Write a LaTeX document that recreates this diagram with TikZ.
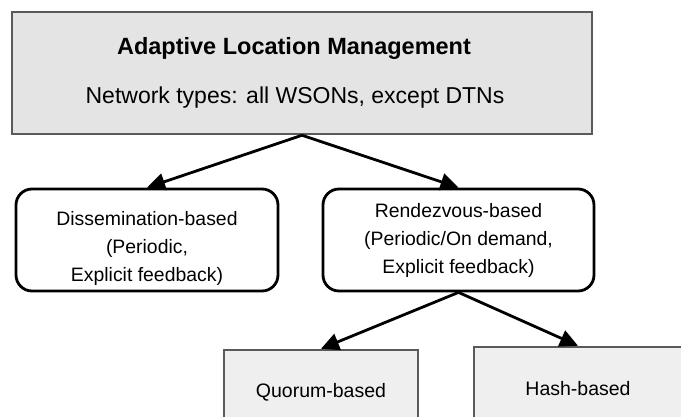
\documentclass[tikz,border=0pt]{standalone}
\usepackage{fontspec}
\setmainfont{Liberation Sans}
\usetikzlibrary{arrows.meta}
\definecolor{topfill}{HTML}{E4E4E4}
\definecolor{leaffill}{HTML}{EFEFEF}
\definecolor{framegray}{HTML}{5A5A5A}

\begin{document}
\begin{tikzpicture}[x=1pt,y=-1pt,
  headbox/.style={draw=framegray, fill=topfill, line width=2.5pt,
    minimum width=580pt, minimum height=122pt, inner sep=0pt},
  catbox/.style={draw=black, fill=white, line width=2.8pt,
    rounded corners=16pt, minimum height=102pt, inner sep=0pt},
  leafbox/.style={draw=framegray, fill=leaffill, line width=2.5pt,
    minimum height=84pt, inner sep=0pt, font=\fontsize{19.5}{24}\selectfont},
  txt/.style={inner sep=0pt, align=center},
  midtxt/.style={txt, font=\fontsize{19.4}{28}\selectfont},
  link/.style={line width=2.8pt, -{Triangle[length=18pt,width=17pt]}}
]
\useasboundingbox (0,0) rectangle (681,416);
\clip (0,0) rectangle (681,416);

% root of the taxonomy
\node[headbox] (root) at (302,73) {};
\node[txt, font=\bfseries\fontsize{23.5}{28}\selectfont] (title) at (294,48)
  {Adaptive Location Management};
\node[txt, font=\fontsize{23}{28}\selectfont] (sub) at (295,98)
  {Network types: all WSONs, except DTNs};

% second level
\node[catbox, minimum width=262pt] (dis) at (147,240) {};
\node[midtxt] (distxt) at (147,248)
  {Dissemination-based\\(Periodic,\\Explicit feedback)};
\node[catbox, minimum width=271pt] (ren) at (458.5,240) {};
\node[midtxt] (rentxt) at (458.5,240)
  {Rendezvous-based\\(Periodic/On demand,\\Explicit feedback)};

% third level
\node[leafbox, minimum width=194pt] (quo) at (321,392) {Quorum-based};
\node[leafbox, minimum width=208pt] (hash) at (578,389) {Hash-based};

% connectors
\draw[link] (root.south) -- (dis.north);
\draw[link] (root.south) -- (ren.north);
\draw[link] (ren.south) -- (quo.north);
\draw[link] (ren.south) -- (hash.north);
\end{tikzpicture}
\end{document}
